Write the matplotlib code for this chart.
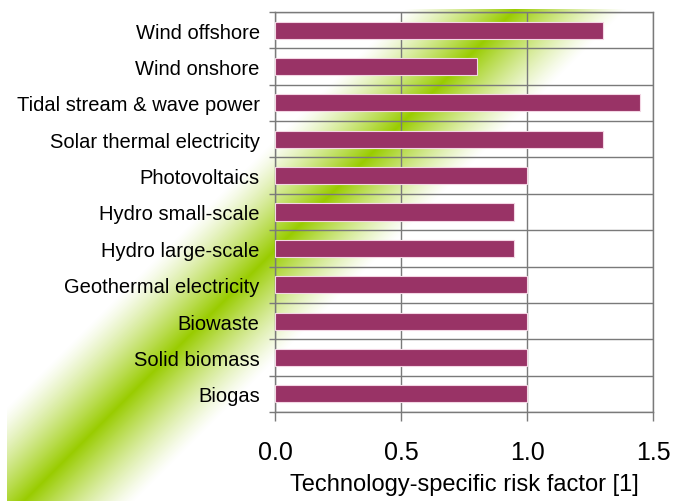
import numpy as np
import matplotlib
matplotlib.use("Agg")
import matplotlib.pyplot as plt
from matplotlib.ticker import MultipleLocator

plt.rcParams["font.family"] = ["Liberation Sans", "DejaVu Sans"]

# --- data (top to bottom as shown) ---
technologies = [
    "Wind offshore", "Wind onshore", "Tidal stream & wave power",
    "Solar thermal electricity", "Photovoltaics", "Hydro small-scale",
    "Hydro large-scale", "Geothermal electricity", "Biowaste",
    "Solid biomass", "Biogas",
]
risk_factor = [1.30, 0.80, 1.45, 1.30, 1.00, 0.95, 0.95, 1.00, 1.00, 1.00, 1.00]
x_ticks = [0.0, 0.5, 1.0, 1.5]
x_label = "Technology-specific risk factor [1]"

# --- palette ---
BAR_COLOR = "#993366"
BAR_EDGE = "#f3d6e4"
GREEN = np.array([0x99, 0xCC, 0x00]) / 255.0
GRID_COLOR = "#7a7a7a"

W, H, DPI = 673, 502, 100
fig = plt.figure(figsize=(W / DPI, H / DPI), dpi=DPI)

# diagonal green glow behind everything (pixel space, y downward)
yy, xx = np.mgrid[0:H, 0:W]
dist = np.abs(xx + yy - 525.0)
strength = np.clip(1.0 - dist / 112.0, 0, 1) ** 1.25
strength[(xx < 7) | (yy < 10)] = 0
glow = np.zeros((H, W, 4))
glow[..., :3] = GREEN
glow[..., 3] = strength
bg = fig.add_axes([0, 0, 1, 1], zorder=0)
bg.imshow(glow, extent=(0, W, H, 0), interpolation="bilinear", aspect="auto")
bg.set_xlim(0, W)
bg.set_ylim(H, 0)
bg.axis("off")

ax = fig.add_axes([275 / W, (H - 413) / H, (653 - 275) / W, (413 - 13) / H], zorder=1)
ax.patch.set_alpha(0)

n = len(technologies)
ypos = np.arange(n)[::-1]
ax.barh(ypos, risk_factor, height=0.47, color=BAR_COLOR,
        edgecolor=BAR_EDGE, linewidth=0.8, zorder=3)

ax.set_xlim(0, 1.5)
ax.set_ylim(-0.5, n - 0.5)
ax.set_xticks(x_ticks)
ax.set_xticklabels([f"{v:.1f}" for v in x_ticks])
ax.set_yticks(ypos)
ax.set_yticklabels(technologies)
ax.yaxis.set_minor_locator(MultipleLocator(1, offset=0.5))

ax.grid(axis="x", which="major", color=GRID_COLOR, linewidth=1.0, zorder=1)
ax.grid(axis="y", which="minor", color=GRID_COLOR, linewidth=1.0, zorder=1)
ax.set_axisbelow(True)

ax.tick_params(axis="y", which="major", length=0, pad=11, labelsize=14.5)
ax.tick_params(axis="y", which="minor", length=4.5, width=1.0, color=GRID_COLOR)
ax.tick_params(axis="x", which="major", length=6.5, width=1.0, color=GRID_COLOR,
               pad=14, labelsize=18)
for sp in ax.spines.values():
    sp.set_color(GRID_COLOR)
    sp.set_linewidth(1.0)

ax.set_xlabel(x_label, fontsize=17, labelpad=6)

fig.savefig("out.png", dpi=DPI)
